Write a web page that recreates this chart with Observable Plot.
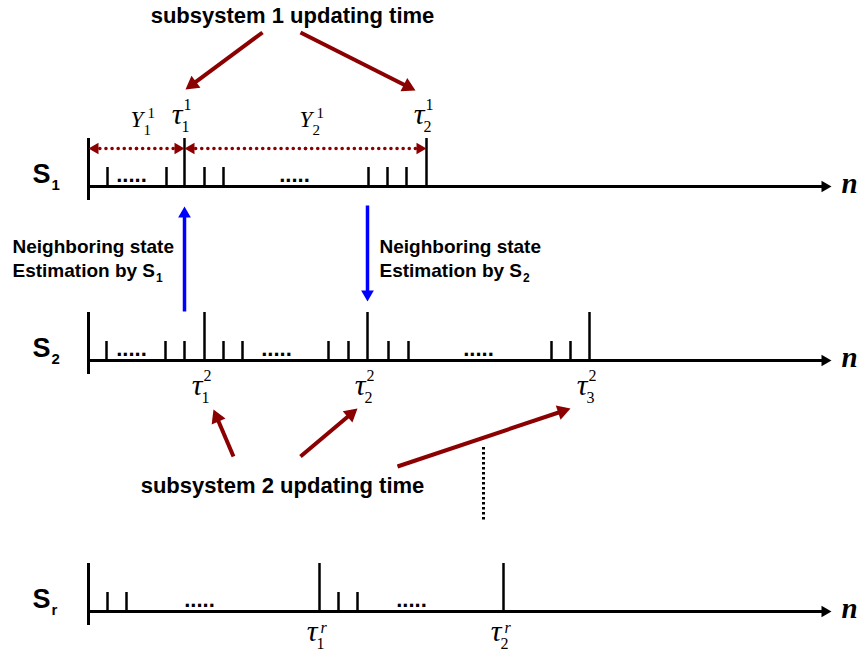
<!DOCTYPE html>
<html><head><meta charset="utf-8">
<script src="https://cdn.jsdelivr.net/npm/d3@7"></script>
<script src="https://cdn.jsdelivr.net/npm/@observablehq/plot@0.6"></script>
<style>body{margin:0;background:#fff}#chart svg{display:block}</style>
</head><body><div id="chart"></div>
<script>
// ---------- data (time instants on each subsystem's time axis n) ----------
const rows = ["S1", "S2", "Sr"];
const rowSubs = ["1", "2", "r"];
const s1Minor = [107, 166, 204, 223, 368, 387, 406];
const s1Update = [184, 426];
const s2Minor = [106, 165, 184, 223, 242, 328, 348, 388, 408, 551, 570];
const s2Update = [204, 367, 589];
const srMinor = [107, 126, 338, 357];
const srUpdate = [319, 503];
const s1Ellipsis = [131, 294];
const s2Ellipsis = [131, 276, 478];
const srEllipsis = [199, 411];
const intervalLabels = ["1", "2"];           // Y_k^1 between updates of S1
const title1 = "subsystem 1 updating time";
const title2 = "subsystem 2 updating time";
const estText = ["Neighboring state", "Estimation by S"];

// ---------- layout ----------
const W = 860, H = 657;
const AXIS = {S1: 186, S2: 360, Sr: 611};
const ORIGIN = 88, AXIS_END = 831;
const BIG = 48, SMALL = 19, BELOW = 14;
const SANS = "Arial, 'Liberation Sans', sans-serif";
const SERIF = "'Times New Roman', 'Liberation Serif', serif";
const RED = "#8B0000", BLUE = "#0000FF";

function measure(str, font) {
  const c = document.createElement("canvas").getContext("2d");
  c.font = font; return c.measureText(str).width;
}

const ticks = [
  ...s1Minor.map(t => ({row: "S1", t, big: false})),
  ...s1Update.map(t => ({row: "S1", t, big: true})),
  ...s2Minor.map(t => ({row: "S2", t, big: false})),
  ...s2Update.map(t => ({row: "S2", t, big: true})),
  ...srMinor.map(t => ({row: "Sr", t, big: false})),
  ...srUpdate.map(t => ({row: "Sr", t, big: true}))
];
const ellipses = [
  ...s1Ellipsis.map(t => ({row: "S1", t})),
  ...s2Ellipsis.map(t => ({row: "S2", t})),
  ...srEllipsis.map(t => ({row: "Sr", t}))
];
const rowData = rows.map((r, i) => ({row: r, sub: rowSubs[i]}));

// tau labels
const tauDy = {S1: -63, S2: 34, Sr: 29};
const taus = [
  ...s1Update.map((t, i) => ({row: "S1", t, sub: String(i + 1), sup: "1"})),
  ...s2Update.map((t, i) => ({row: "S2", t, sub: String(i + 1), sup: "2"})),
  ...srUpdate.map((t, i) => ({row: "Sr", t, sub: String(i + 1), sup: "r"}))
];
// Y labels centred in each S1 interval
const yLabels = intervalLabels.map((k, i) => {
  const a = i === 0 ? ORIGIN : s1Update[i - 1], b = s1Update[i];
  return {t: (a + b) / 2, sub: k, sup: "1"};
});

// annotation arrows
const redArrows = [
  {x1: 262, y1: 32, x2: 185, y2: 89},
  {x1: 300, y1: 32, x2: 415, y2: 90},
  {x1: 233, y1: 456, x2: 213, y2: 409},
  {x1: 300, y1: 456, x2: 357, y2: 408},
  {x1: 397, y1: 466, x2: 570, y2: 408}
];
const blueArrows = [
  {x1: s1Update[0], y1: 311, x2: s1Update[0], y2: 206},
  {x1: s2Update[1], y1: 205, x2: s2Update[1], y2: 301}
];
const axisArrows = rows.map(r => ({x1: ORIGIN, y1: AXIS[r], x2: AXIS_END, y2: AXIS[r]}));
const spanY = 148;
const spans = [
  {a: ORIGIN, b: s1Update[0]},
  {a: s1Update[0], b: s1Update[1]}
];

function prep(list) {
  return list.map(d => {
    const dx = d.x2 - d.x1, dy = d.y2 - d.y1, L = Math.hypot(dx, dy);
    return {...d, ux: dx / L, uy: dy / L};
  });
}
function arrowMarks(list, {stroke, width, head, dash}) {
  const data = prep(list);
  const r = Math.sqrt(3 * Math.sqrt(3) * (head / 3) ** 2 / Math.PI);
  return [
    Plot.link(data, {
      x1: "x1", y1: "y1",
      x2: d => d.x2 - d.ux * head * 0.6, y2: d => d.y2 - d.uy * head * 0.6,
      stroke, strokeWidth: width, strokeDasharray: dash,
      strokeLinecap: dash ? "round" : "butt"
    }),
    Plot.dot(data, {
      x: d => d.x2 - d.ux * head * 2 / 3, y: d => d.y2 - d.uy * head * 2 / 3,
      symbol: "triangle", r, fill: stroke,
      rotate: d => Math.atan2(d.uy, d.ux) * 180 / Math.PI + 90
    })
  ];
}
// double-headed dotted spans: two half-arrows from the middle
const spanArrows = spans.flatMap(s => {
  const m = (s.a + s.b) / 2;
  return [{x1: m, y1: spanY, x2: s.a, y2: spanY}, {x1: m, y1: spanY, x2: s.b, y2: spanY}];
});

const estFont = 19;
const estW = measure(estText[1], `bold ${estFont}px ${SANS}`);
const estimations = [
  {x: 12, base: 252, sub: "1"},
  {x: 379, base: 252, sub: "2"}
];

const tauY = d => AXIS[d.row] + tauDy[d.row];
const chart = Plot.plot({
  width: W, height: H,
  margin: 0,
  x: {domain: [0, W], range: [0, W], axis: null},
  y: {domain: [0, H], range: [0, H], axis: null},
  marks: [
    // time axes with arrows
    ...arrowMarks(axisArrows, {stroke: "black", width: 3, head: 10}),
    // origin bars
    Plot.ruleX(rowData, {x: () => ORIGIN, y1: d => AXIS[d.row] - BIG, y2: d => AXIS[d.row] + BELOW, strokeWidth: 3, stroke: "black"}),
    // update instants and other instants
    Plot.ruleX(ticks, {x: "t", y1: d => AXIS[d.row] - (d.big ? BIG : SMALL), y2: d => AXIS[d.row], strokeWidth: 2.5, stroke: "black"}),
    // ellipses
    Plot.text(ellipses, {x: "t", y: d => AXIS[d.row] - 5, text: () => ".....", fontSize: 22, fontWeight: "bold", fontFamily: SANS, textAnchor: "middle", lineAnchor: "bottom"}),
    // row labels S_i
    Plot.text(rowData, {x: () => 32, y: d => AXIS[d.row] - 4, text: () => "S", fontSize: 27, fontWeight: "bold", fontFamily: SANS, textAnchor: "start", lineAnchor: "bottom"}),
    Plot.text(rowData, {x: () => 51, y: d => AXIS[d.row] + 3, text: "sub", fontSize: 15, fontWeight: "bold", fontFamily: SANS, textAnchor: "start", lineAnchor: "bottom"}),
    // n labels
    Plot.text(rowData, {x: () => 841, y: d => AXIS[d.row] + 6, text: () => "n", fontSize: 29, fontWeight: "bold", fontStyle: "italic", fontFamily: SERIF, textAnchor: "start", lineAnchor: "bottom"}),
    // tau labels
    Plot.text(taus, {x: d => d.t - 2, y: tauY, text: () => "τ", fontSize: 30, fontStyle: "italic", fontFamily: SERIF, textAnchor: "end", lineAnchor: "bottom"}),
    Plot.text(taus, {x: d => d.t - 3, y: d => tauY(d) + 8, text: "sub", fontSize: 16, fontFamily: SERIF, textAnchor: "start", lineAnchor: "bottom"}),
    Plot.text(taus.filter(d => d.sup !== "r"), {x: d => d.t - 1, y: d => tauY(d) - 14, text: "sup", fontSize: 16, fontFamily: SERIF, textAnchor: "start", lineAnchor: "bottom"}),
    Plot.text(taus.filter(d => d.sup === "r"), {x: d => d.t + 1, y: d => tauY(d) - 8, text: "sup", fontSize: 16, fontStyle: "italic", fontFamily: SERIF, textAnchor: "start", lineAnchor: "bottom"}),
    // Y labels
    Plot.text(yLabels, {x: d => d.t - 6, y: () => 126, text: () => "Y", fontSize: 23, fontStyle: "italic", fontFamily: SERIF, textAnchor: "start", lineAnchor: "bottom"}),
    Plot.text(yLabels, {x: d => d.t + 7, y: () => 134, text: "sub", fontSize: 15, fontFamily: SERIF, textAnchor: "start", lineAnchor: "bottom"}),
    Plot.text(yLabels, {x: d => d.t + 11, y: () => 117, text: "sup", fontSize: 15, fontFamily: SERIF, textAnchor: "start", lineAnchor: "bottom"}),
    // dotted spans
    ...arrowMarks(spanArrows, {stroke: RED, width: 3.5, head: 10, dash: "0.1,6"}),
    // vertical ellipsis between S2 and Sr
    Plot.ruleX([s2Update[1] + 116], {x: d => d, y1: () => 447, y2: () => 521, stroke: "black", strokeWidth: 3, strokeDasharray: "2.5,2.5"}),
    // blue estimation arrows
    ...arrowMarks(blueArrows, {stroke: BLUE, width: 3.5, head: 11}),
    // red annotation arrows
    ...arrowMarks(redArrows, {stroke: RED, width: 4, head: 13}),
    // titles
    Plot.text([title1], {x: () => 292, y: () => 22, text: d => d, fontSize: 22, fontWeight: "bold", fontFamily: SANS, textAnchor: "middle", lineAnchor: "bottom"}),
    Plot.text([title2], {x: () => 282, y: () => 492, text: d => d, fontSize: 22, fontWeight: "bold", fontFamily: SANS, textAnchor: "middle", lineAnchor: "bottom"}),
    // estimation texts
    Plot.text(estimations, {x: "x", y: "base", text: () => estText[0], fontSize: estFont, fontWeight: "bold", fontFamily: SANS, textAnchor: "start", lineAnchor: "bottom"}),
    Plot.text(estimations, {x: "x", y: d => d.base + 24, text: () => estText[1], fontSize: estFont, fontWeight: "bold", fontFamily: SANS, textAnchor: "start", lineAnchor: "bottom"}),
    Plot.text(estimations, {x: d => d.x + estW + 1, y: d => d.base + 29, text: "sub", fontSize: 12, fontWeight: "bold", fontFamily: SANS, textAnchor: "start", lineAnchor: "bottom"})
  ]
});
document.getElementById("chart").appendChild(chart);
</script>
</body></html>
